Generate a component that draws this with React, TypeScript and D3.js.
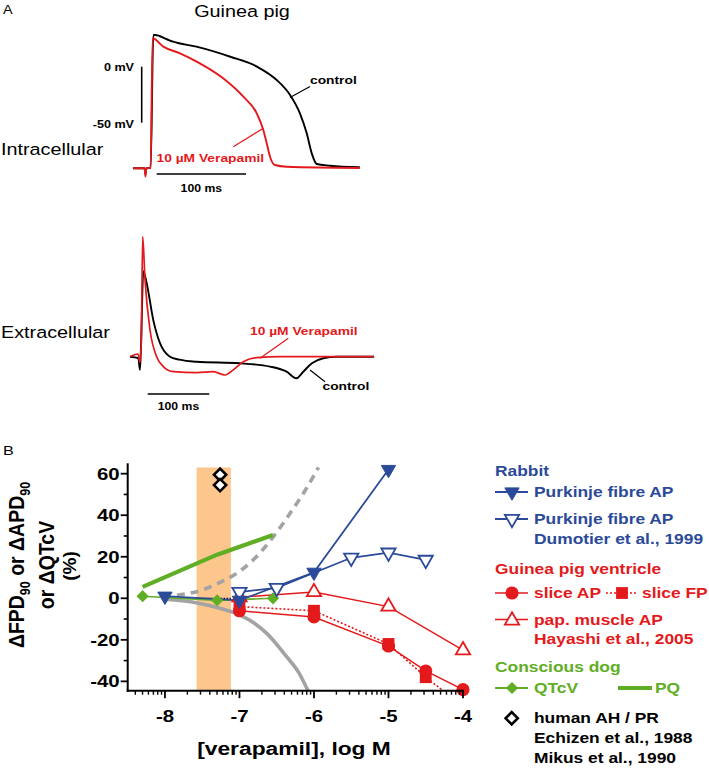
import React from 'react';
import * as d3 from 'd3';

// ---------------- Panel A data (time in ms, voltage in mV / a.u.) ----------------
const AP_CONTROL: [number, number][] = [
  [-21, -90.7], [-8, -90.7], [-7, -96], [-6, -90.7], [-1.2, -90.5], [1.8, 28.3], [4, 28.3],
  [17, 24.5], [24, 22.3], [50, 17.9], [88, 8.9], [118, 0], [140, -11.9], [155, -25.3],
  [166, -41.6], [173.6, -59.5], [179.2, -77.3], [184.8, -86.9], [199.7, -88.4], [233, -89.8],
];
const AP_VERAPAMIL: [number, number][] = [
  [-21, -90.7], [-8, -90.7], [-7, -98], [-6, -90.7], [-1.2, -90.5], [1, 25.4], [13, 17.9],
  [31.7, 11.9], [50.4, 4.5], [80, -10.4], [102.6, -26.8], [117.6, -41.6], [125, -56.5],
  [128.8, -68.4], [132.5, -80.4], [138, -87.8], [151, -89.3], [233, -90.4],
];
const FP_CONTROL: [number, number][] = [
  [-20.3, 0], [-6.8, -0.05], [-4.1, -0.44], [-2.5, 0.3], [1.3, 2.85], [6.8, 2.45], [17.5, 1.22],
  [28.4, 0.45], [44.6, 0], [60, -0.1], [88, -0.17], [158, -0.22], [207, -0.33], [234, -0.5],
  [250, -0.72], [261, -0.5], [275, -0.22], [293.5, -0.05], [315, 0], [376, 0],
];
const FP_VERAPAMIL: [number, number][] = [
  [-20.3, 0], [-7.3, 0.09], [-4.1, -0.18], [-2, 0.5], [0.3, 4.0], [4.1, 2.56], [12.2, 0.89],
  [23, 0], [33.8, -0.33], [50, -0.5], [88, -0.53], [115, -0.5], [134, -0.61], [147.4, -0.44],
  [163.6, -0.17], [185.4, -0.03], [223, 0], [376, 0],
];

// ---------------- Panel B data (x: log M verapamil, y: % change) ----------------
const PURKINJE_X = [-8, -7, -6, -5];
const PURKINJE_Y = [1, -1, 12.5, 62];
const DUMOTIER_X = [-7, -6.5, -5.5, -5, -4.5];
const DUMOTIER_Y = [3, 5, 19.5, 22, 18.5];
const SLICE_AP_X = [-7, -6, -5, -4.5, -4];
const SLICE_AP_Y = [-6, -9, -23, -35, -44];
const SLICE_FP_X = [-7, -6, -5, -4.5, -4];
const SLICE_FP_Y = [-4, -6, -22, -38, -52];
const PAP_X = [-7, -6, -5, -4];
const PAP_Y = [0.5, 3, -4, -25];
const QTCV_X = [-8.3, -7.3, -6.55];
const QTCV_Y = [1, -1, 0];
const PQ_X = [-8.3, -7.3, -6.55];
const PQ_Y = [5.5, 21, 30.5];
const HUMAN_X = [-7.26, -7.26];
const HUMAN_Y = [59.5, 54.5];
const GREY_UP_X = [-7.84, -7.5, -7.3, -7.04, -6.8, -6.55, -6.3, -6.1, -5.94];
const GREY_UP_Y = [1.5, 4, 7, 12, 19, 29.5, 42, 53, 63];
const GREY_DOWN_X = [-8, -7.6, -7.35, -7.0, -6.8, -6.63, -6.37, -6.2, -6.08];
const GREY_DOWN_Y = [-0.5, -2, -4, -8, -12, -17, -28, -36, -44.5];
const BAND_X = [-7.575, -7.115];
const BAND_TOP = 63;
const X_MAJOR = [-8, -7, -6, -5, -4];
const Y_MAJOR = [-40, -20, 0, 20, 40, 60];
const Y_MINOR = [-30, -10, 10, 30, 50];

const BLUE = '#2b4a99';
const RED = '#e4191c';
const GREEN = '#5fae25';
const GREY = '#a3a3a3';
const ORANGE = '#fdc68c';
const FONT = 'Liberation Sans, Arial, Helvetica, sans-serif';
const SX = 1.2;

const T = ({ x, y, size, children, fill = '#000', weight = 'bold', anchor = 'start' }: any) => (
  <text
    transform={`translate(${x},${y}) scale(${SX},1)`}
    fontSize={size}
    fontWeight={weight}
    fill={fill}
    textAnchor={anchor}
    fontFamily={FONT}
  >
    {children}
  </text>
);

const sym = (type: any, size: number) => d3.symbol().type(type).size(size)() as string;
const TRI = sym(d3.symbolTriangle, 88);
const CIRC = sym(d3.symbolCircle, 135);
const SQR = sym(d3.symbolSquare, 140);
const DIAM = sym(d3.symbolSquare, 75);

const Marker = ({ kind, x, y }: any) => {
  switch (kind) {
    case 'triDownFilled':
      return <path d={TRI} transform={`translate(${x},${y}) rotate(180)`} fill={BLUE} stroke={BLUE} strokeWidth={1} />;
    case 'triDownOpen':
      return <path d={TRI} transform={`translate(${x},${y}) rotate(180)`} fill="#fff" stroke={BLUE} strokeWidth={1.8} />;
    case 'triUpOpen':
      return <path d={TRI} transform={`translate(${x},${y})`} fill="#fff" stroke={RED} strokeWidth={1.8} />;
    case 'circle':
      return <path d={CIRC} transform={`translate(${x},${y})`} fill={RED} />;
    case 'square':
      return <path d={SQR} transform={`translate(${x},${y})`} fill={RED} />;
    case 'diamond':
      return <path d={DIAM} transform={`translate(${x},${y}) rotate(45)`} fill={GREEN} />;
    case 'diamondOpen':
      return <path d={DIAM} transform={`translate(${x},${y}) rotate(45)`} fill="#fff" stroke="#000" strokeWidth={2.6} />;
    default:
      return null;
  }
};

export default function App() {
  // Panel A scales
  const apX = d3.scaleLinear().domain([0, 100]).range([151.7, 241]);
  const apY = d3.scaleLinear().domain([0, -50]).range([66.7, 122.7]);
  const fpX = d3.scaleLinear().domain([0, 100]).range([142.5, 204.1]);
  const fpY = d3.scaleLinear().domain([0, 1]).range([356.7, 326.7]);
  const apLine = d3.line<[number, number]>().x(d => apX(d[0])).y(d => apY(d[1])).curve(d3.curveMonotoneX);
  const fpLine = d3.line<[number, number]>().x(d => fpX(d[0])).y(d => fpY(d[1])).curve(d3.curveMonotoneX);

  // Panel B scales
  const x = d3.scaleLinear().domain([-8.5, -4]).range([127.7, 463]);
  const y = d3.scaleLinear().domain([-44.5, 65]).range([690.7, 463.3]);
  const pts = (xs: number[], ys: number[]) => xs.map((v, i) => [v, ys[i]] as [number, number]);
  const lin = d3.line<[number, number]>().x(d => x(d[0])).y(d => y(d[1]));
  const smooth = d3.line<[number, number]>().x(d => x(d[0])).y(d => y(d[1])).curve(d3.curveMonotoneX);

  const xMinor: number[] = [];
  for (let d = -9; d <= -5; d++) {
    for (let k = 2; k <= 9; k++) {
      const v = d + Math.log10(k);
      if (v > -8.5 && v < -4) xMinor.push(v);
    }
  }

  const x0 = x(-8.5);
  const yb = y(-44.5);
  const inRange = (v: number) => v >= -45 && v <= 65;

  const series = (xs: number[], ys: number[], kind: string) =>
    pts(xs, ys).filter(p => inRange(p[1])).map((p, i) => <Marker key={kind + i} kind={kind} x={x(p[0])} y={y(p[1])} />);

  // legend layout
  const LX0 = 495, LX1 = 528, LM = 512, LT = 534;

  return (
    <svg width={709} height={770} style={{ position: 'absolute', left: 0, top: 0, background: '#fff' }}>
      <rect width={709} height={770} fill="#fff" />
      <defs>
        <clipPath id="plotclip">
          <rect x={x0} y={440} width={20 + x(-4) - x0} height={yb - 440} />
        </clipPath>
      </defs>

      {/* ---------------- Panel A ---------------- */}
      <T x={3} y={14} size={12} weight="normal">A</T>
      <T x={242} y={17} size={16.5} weight="normal" anchor="middle">Guinea pig</T>
      <T x={1} y={155} size={16.5} weight="normal">Intracellular</T>
      <T x={1} y={338} size={16.5} weight="normal">Extracellular</T>

      {/* voltage scale bar */}
      <line x1={141.7} x2={141.7} y1={apY(0)} y2={apY(-50)} stroke="#000" strokeWidth={1.6} />
      <T x={134} y={71} size={10.5} anchor="end">0 mV</T>
      <T x={134} y={127.5} size={10.5} anchor="end">-50 mV</T>

      <path d={apLine(AP_CONTROL) || ''} fill="none" stroke="#000" strokeWidth={1.9} />
      <path d={apLine(AP_VERAPAMIL) || ''} fill="none" stroke={RED} strokeWidth={1.9} />

      <line x1={290} y1={97.5} x2={310} y2={86.5} stroke="#000" strokeWidth={1.2} />
      <T x={310} y={84} size={11.5}>control</T>
      <line x1={233.3} y1={146.7} x2={263.3} y2={128.3} stroke={RED} strokeWidth={1.2} />
      <T x={156.5} y={161.5} size={11.5} fill={RED}>10 µM Verapamil</T>

      <line x1={apX(5.6)} x2={apX(105.6)} y1={174} y2={174} stroke="#000" strokeWidth={1.4} />
      <T x={(apX(5.6) + apX(105.6)) / 2} y={191.5} size={10.2} anchor="middle">100 ms</T>

      {/* extracellular */}
      <path d={fpLine(FP_CONTROL) || ''} fill="none" stroke="#000" strokeWidth={1.9} />
      <path d={fpLine(FP_VERAPAMIL) || ''} fill="none" stroke={RED} strokeWidth={1.7} />
      <line x1={260} y1={358.3} x2={288.3} y2={338.3} stroke={RED} strokeWidth={1.2} />
      <T x={250} y={335} size={11.5} fill={RED}>10 µM Verapamil</T>
      <line x1={310} y1={370} x2={325} y2={381.7} stroke="#000" strokeWidth={1.2} />
      <T x={322.5} y={389.5} size={11.5}>control</T>
      <line x1={fpX(8.4)} x2={fpX(108.4)} y1={394} y2={394} stroke="#000" strokeWidth={1.4} />
      <T x={(fpX(8.4) + fpX(108.4)) / 2} y={409.5} size={10.2} anchor="middle">100 ms</T>

      {/* ---------------- Panel B ---------------- */}
      <T x={3} y={455} size={13.5} weight="normal">B</T>

      {/* band */}
      <rect x={x(BAND_X[0])} y={y(BAND_TOP)} width={x(BAND_X[1]) - x(BAND_X[0])} height={yb - y(BAND_TOP)} fill={ORANGE} />
      <line x1={x(BAND_X[0])} x2={x(BAND_X[1])} y1={y(0)} y2={y(0)} stroke="#000" strokeWidth={1.2} strokeDasharray="1.5,1.5" />

      <g clipPath="url(#plotclip)">
        <path d={smooth(pts(GREY_UP_X, GREY_UP_Y)) || ''} fill="none" stroke={GREY} strokeWidth={3.6} strokeDasharray="8,6" />
        <path d={smooth(pts(GREY_DOWN_X, GREY_DOWN_Y)) || ''} fill="none" stroke={GREY} strokeWidth={3.6} />
        <path d={lin(pts(PQ_X, PQ_Y)) || ''} fill="none" stroke={GREEN} strokeWidth={4.2} />
        <path d={lin(pts(QTCV_X, QTCV_Y)) || ''} fill="none" stroke={GREEN} strokeWidth={1.6} />
        <path d={lin(pts(PAP_X, PAP_Y)) || ''} fill="none" stroke={RED} strokeWidth={1.5} />
        <path d={lin(pts(SLICE_FP_X, SLICE_FP_Y)) || ''} fill="none" stroke={RED} strokeWidth={1.6} strokeDasharray="2,2" />
        <path d={lin(pts(SLICE_AP_X, SLICE_AP_Y)) || ''} fill="none" stroke={RED} strokeWidth={1.5} />
        <path d={lin(pts(DUMOTIER_X, DUMOTIER_Y)) || ''} fill="none" stroke={BLUE} strokeWidth={1.8} />
        <path d={lin(pts(PURKINJE_X, PURKINJE_Y)) || ''} fill="none" stroke={BLUE} strokeWidth={1.8} />
      </g>

      {series(QTCV_X, QTCV_Y, 'diamond')}
      {series(PAP_X, PAP_Y, 'triUpOpen')}
      {series(SLICE_FP_X, SLICE_FP_Y, 'square')}
      {series(SLICE_AP_X, SLICE_AP_Y, 'circle')}
      {series(DUMOTIER_X, DUMOTIER_Y, 'triDownOpen')}
      {series(PURKINJE_X, PURKINJE_Y, 'triDownFilled')}
      {series(HUMAN_X, HUMAN_Y, 'diamondOpen')}

      {/* axes */}
      <line x1={x0} x2={x0} y1={y(65)} y2={yb + 1} stroke="#000" strokeWidth={2} />
      <line x1={x0 - 1} x2={x(-4) + 1} y1={yb} y2={yb} stroke="#000" strokeWidth={2} />
      {Y_MAJOR.map(v => (
        <g key={'ym' + v}>
          <line x1={x0 - 7} x2={x0} y1={y(v)} y2={y(v)} stroke="#000" strokeWidth={1.8} />
          <T x={x0 - 8} y={y(v) + 6} size={17} anchor="end">{String(v)}</T>
        </g>
      ))}
      {Y_MINOR.map(v => (
        <line key={'yn' + v} x1={x0 - 4} x2={x0} y1={y(v)} y2={y(v)} stroke="#000" strokeWidth={1.6} />
      ))}
      {X_MAJOR.map(v => (
        <g key={'xm' + v}>
          <line x1={x(v)} x2={x(v)} y1={yb} y2={yb + 7.5} stroke="#000" strokeWidth={1.8} />
          <T x={x(v)} y={721.5} size={17} anchor="middle">{String(v)}</T>
        </g>
      ))}
      {xMinor.map((v, i) => (
        <line key={'xn' + i} x1={x(v)} x2={x(v)} y1={yb} y2={yb + 4} stroke="#000" strokeWidth={1.4} />
      ))}

      <T x={294} y={755} size={19} anchor="middle">[verapamil], log M</T>

      {/* y-axis title */}
      <g fontFamily={FONT} fontWeight="bold" fill="#000" textAnchor="middle">
        <text transform={`translate(24,565) rotate(-90) scale(1,1.1)`} fontSize={19.5}>
          ΔFPD<tspan dy={5} fontSize={12.5}>90</tspan><tspan dy={-5}> or ΔAPD</tspan><tspan dy={5} fontSize={12.5}>90</tspan>
        </text>
        <text transform={`translate(54,565) rotate(-90) scale(1,1.1)`} fontSize={19.5}>or ΔQTcV</text>
        <text transform={`translate(76,566) rotate(-90) scale(1,1.0)`} fontSize={19}>(%)</text>
      </g>

      {/* ---------------- Legend ---------------- */}
      <T x={LX0} y={476} size={14.5} fill={BLUE}>Rabbit</T>
      <line x1={LX0} x2={LX1} y1={492} y2={492} stroke={BLUE} strokeWidth={1.8} />
      <Marker kind="triDownFilled" x={LM} y={492} />
      <T x={LT} y={497.3} size={14.5} fill={BLUE}>Purkinje fibre AP</T>
      <line x1={LX0} x2={LX1} y1={519} y2={519} stroke={BLUE} strokeWidth={1.8} />
      <Marker kind="triDownOpen" x={LM} y={519} />
      <T x={LT} y={524} size={14.5} fill={BLUE}>Purkinje fibre AP</T>
      <T x={LT} y={544} size={14.5} fill={BLUE}>Dumotier et al., 1999</T>

      <T x={LX0} y={574} size={14.5} fill={RED}>Guinea pig ventricle</T>
      <line x1={LX0} x2={LX1} y1={593} y2={593} stroke={RED} strokeWidth={1.6} />
      <Marker kind="circle" x={LM} y={593} />
      <T x={LT} y={598.3} size={14.5} fill={RED}>slice AP</T>
      <line x1={606} x2={638} y1={593} y2={593} stroke={RED} strokeWidth={1.6} strokeDasharray="2,2" />
      <Marker kind="square" x={622} y={593} />
      <T x={642} y={598.3} size={14.5} fill={RED}>slice FP</T>
      <line x1={LX0} x2={LX1} y1={619.5} y2={619.5} stroke={RED} strokeWidth={1.6} />
      <Marker kind="triUpOpen" x={LM} y={620.5} />
      <T x={LT} y={625} size={14.5} fill={RED}>pap. muscle AP</T>
      <T x={LT} y={644} size={14.5} fill={RED}>Hayashi et al., 2005</T>

      <T x={LX0} y={671.7} size={14.5} fill={GREEN}>Conscious dog</T>
      <line x1={LX0} x2={LX1} y1={688} y2={688} stroke={GREEN} strokeWidth={1.8} />
      <Marker kind="diamond" x={LM} y={688} />
      <T x={LT} y={693.3} size={14.5} fill={GREEN}>QTcV</T>
      <line x1={618} x2={652} y1={688} y2={688} stroke={GREEN} strokeWidth={4.2} />
      <T x={655} y={693.3} size={14.5} fill={GREEN}>PQ</T>

      <Marker kind="diamondOpen" x={511.7} y={718.3} />
      <T x={LT} y={723.3} size={14.5}>human AH / PR</T>
      <T x={LT} y={742.7} size={14.5}>Echizen et al., 1988</T>
      <T x={LT} y={763.3} size={14.5}>Mikus et al., 1990</T>
    </svg>
  );
}
